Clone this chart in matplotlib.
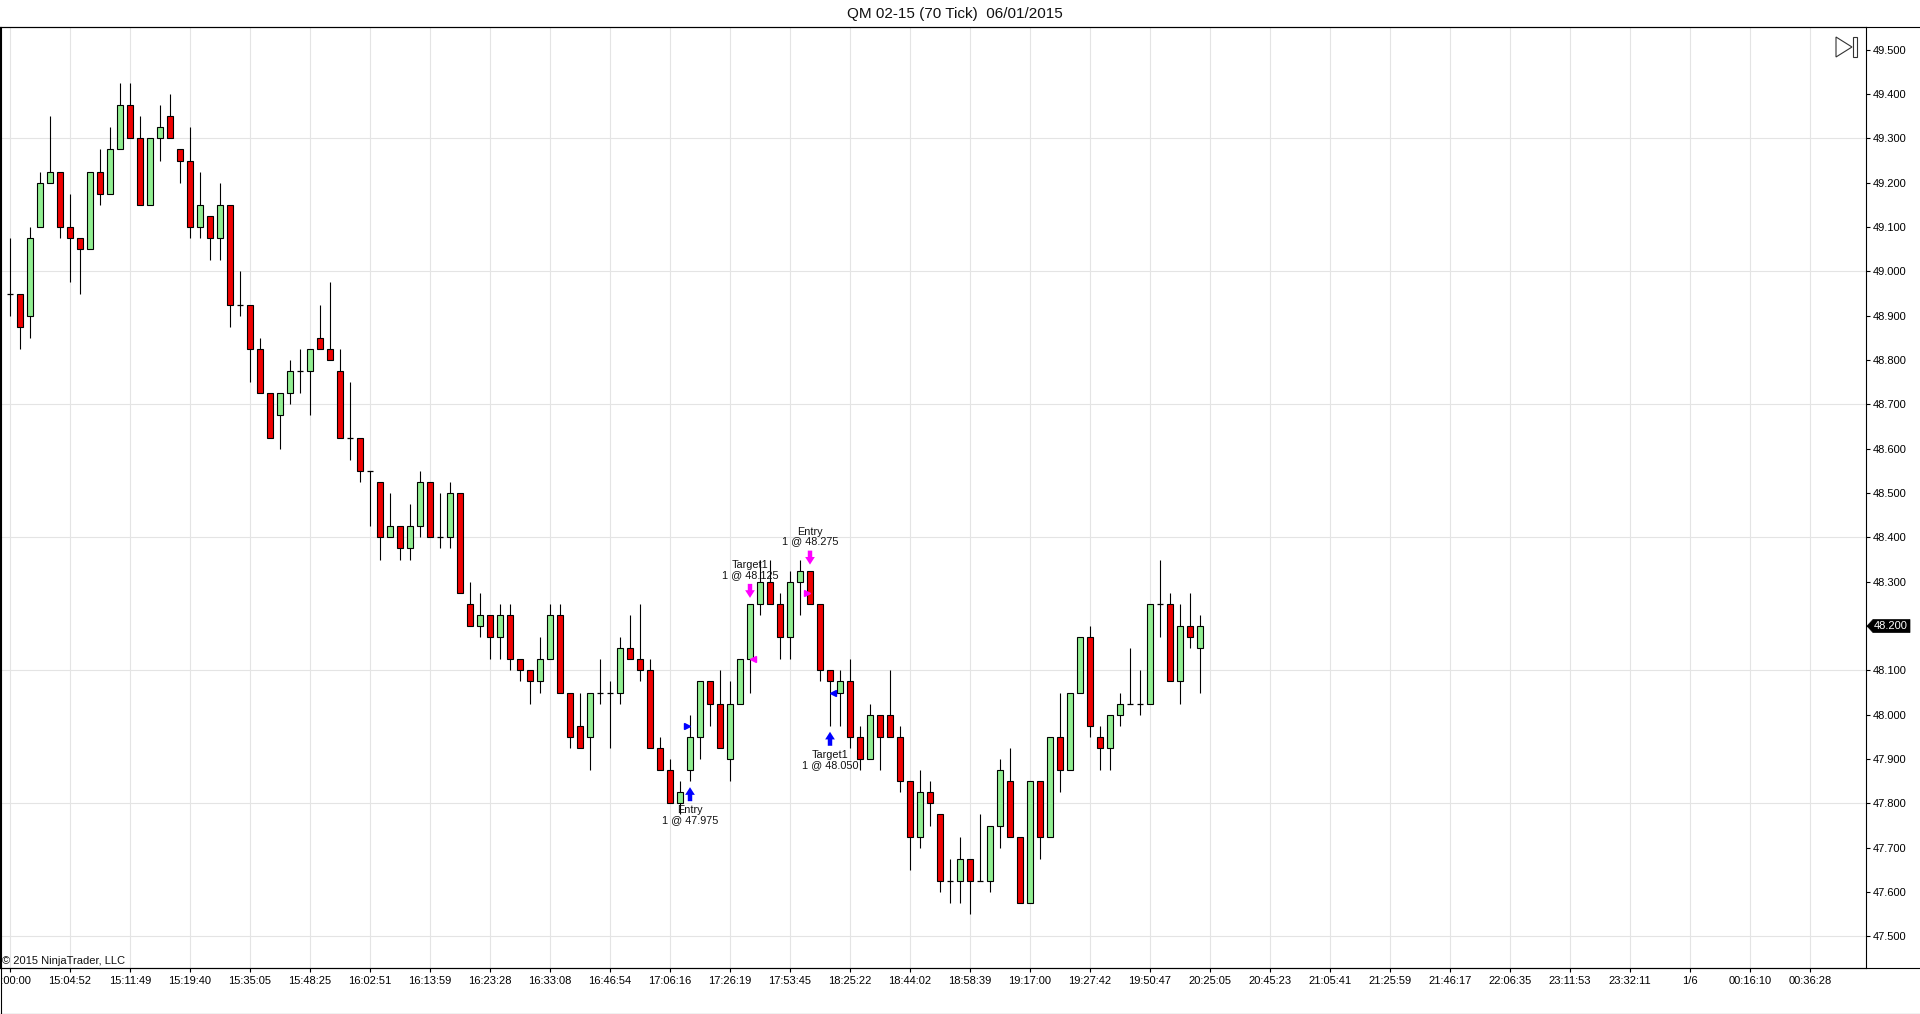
import numpy as np
import matplotlib
matplotlib.use('Agg')
import matplotlib.pyplot as plt
from matplotlib.transforms import offset_copy
from matplotlib.patches import Polygon, Rectangle
from matplotlib.lines import Line2D
from matplotlib.ticker import FormatStrFormatter

plt.rcParams['font.family'] = ['Liberation Sans', 'DejaVu Sans']

# ---------------- data (70-tick bars) ----------------
opens = [48.95, 48.95, 48.9, 49.1, 49.2, 49.225, 49.1, 49.075, 49.05, 49.225,
         49.175, 49.275, 49.375, 49.3, 49.15, 49.3, 49.35, 49.275, 49.25, 49.1,
         49.125, 49.075, 49.15, 48.925, 48.925, 48.825, 48.725, 48.675, 48.725, 48.775,
         48.775, 48.85, 48.825, 48.775, 48.625, 48.625, 48.55, 48.525, 48.4, 48.425,
         48.375, 48.425, 48.525, 48.4, 48.4, 48.5, 48.25, 48.2, 48.225, 48.175,
         48.225, 48.125, 48.1, 48.075, 48.125, 48.225, 48.05, 47.975, 47.95, 48.05,
         48.05, 48.05, 48.15, 48.125, 48.1, 47.925, 47.875, 47.8, 47.875, 47.95,
         48.075, 48.025, 47.9, 48.025, 48.125, 48.25, 48.3, 48.25, 48.175, 48.3,
         48.325, 48.25, 48.1, 48.05, 48.075, 47.95, 47.9, 48.0, 48.0, 47.95,
         47.85, 47.725, 47.825, 47.775, 47.625, 47.625, 47.675, 47.625, 47.625, 47.75,
         47.85, 47.725, 47.575, 47.85, 47.725, 47.95, 47.875, 48.05, 48.175, 47.95,
         47.925, 48.0, 48.025, 48.025, 48.025, 48.25, 48.25, 48.075, 48.2, 48.15]
highs = [49.075, 48.95, 49.1, 49.225, 49.35, 49.225, 49.175, 49.075, 49.225, 49.275,
         49.325, 49.425, 49.425, 49.35, 49.3, 49.375, 49.4, 49.275, 49.325, 49.225,
         49.125, 49.2, 49.15, 49.0, 48.925, 48.85, 48.725, 48.725, 48.8, 48.825,
         48.825, 48.925, 48.975, 48.825, 48.75, 48.625, 48.55, 48.525, 48.5, 48.425,
         48.475, 48.55, 48.525, 48.5, 48.525, 48.5, 48.3, 48.275, 48.225, 48.25,
         48.25, 48.125, 48.1, 48.175, 48.25, 48.25, 48.05, 48.05, 48.05, 48.125,
         48.075, 48.175, 48.225, 48.25, 48.125, 47.95, 47.9, 47.85, 48.0, 48.075,
         48.075, 48.1, 48.075, 48.125, 48.25, 48.35, 48.35, 48.275, 48.325, 48.35,
         48.325, 48.25, 48.1, 48.1, 48.125, 47.975, 48.025, 48.0, 48.1, 47.975,
         47.85, 47.875, 47.85, 47.775, 47.675, 47.725, 47.675, 47.775, 47.75, 47.9,
         47.925, 47.725, 47.85, 47.85, 47.95, 48.05, 48.05, 48.175, 48.2, 47.975,
         48.0, 48.05, 48.15, 48.1, 48.25, 48.35, 48.275, 48.25, 48.275, 48.225]
lows = [48.9, 48.825, 48.85, 49.1, 49.2, 49.075, 48.975, 48.95, 49.05, 49.15,
        49.175, 49.275, 49.3, 49.15, 49.15, 49.25, 49.3, 49.2, 49.075, 49.075,
        49.025, 49.025, 48.875, 48.9, 48.75, 48.725, 48.625, 48.6, 48.7, 48.725,
        48.675, 48.825, 48.8, 48.625, 48.575, 48.525, 48.425, 48.35, 48.4, 48.35,
        48.35, 48.4, 48.4, 48.375, 48.375, 48.275, 48.2, 48.175, 48.125, 48.125,
        48.1, 48.075, 48.025, 48.05, 48.125, 48.05, 47.925, 47.925, 47.875, 48.025,
        47.925, 48.025, 48.125, 48.075, 47.925, 47.875, 47.8, 47.775, 47.85, 47.9,
        47.975, 47.925, 47.85, 48.025, 48.05, 48.225, 48.25, 48.125, 48.125, 48.225,
        48.25, 48.075, 47.975, 47.975, 47.925, 47.875, 47.9, 47.875, 47.95, 47.825,
        47.65, 47.7, 47.75, 47.6, 47.575, 47.575, 47.55, 47.625, 47.6, 47.7,
        47.725, 47.575, 47.575, 47.675, 47.725, 47.825, 47.875, 48.05, 47.95, 47.875,
        47.875, 47.975, 48.025, 48.0, 48.025, 48.175, 48.075, 48.025, 48.15, 48.05]
closes = [48.95, 48.875, 49.075, 49.2, 49.225, 49.1, 49.075, 49.05, 49.225, 49.175,
          49.275, 49.375, 49.3, 49.15, 49.3, 49.325, 49.3, 49.25, 49.1, 49.15,
          49.075, 49.15, 48.925, 48.925, 48.825, 48.725, 48.625, 48.725, 48.775, 48.775,
          48.825, 48.825, 48.8, 48.625, 48.625, 48.55, 48.55, 48.4, 48.425, 48.375,
          48.425, 48.525, 48.4, 48.4, 48.5, 48.275, 48.2, 48.225, 48.175, 48.225,
          48.125, 48.1, 48.075, 48.125, 48.225, 48.05, 47.95, 47.925, 48.05, 48.05,
          48.05, 48.15, 48.125, 48.1, 47.925, 47.875, 47.8, 47.825, 47.95, 48.075,
          48.025, 47.925, 48.025, 48.125, 48.25, 48.3, 48.25, 48.175, 48.3, 48.325,
          48.25, 48.1, 48.075, 48.075, 47.95, 47.9, 48.0, 47.95, 47.95, 47.85,
          47.725, 47.825, 47.8, 47.625, 47.625, 47.675, 47.625, 47.625, 47.75, 47.875,
          47.725, 47.575, 47.85, 47.725, 47.95, 47.875, 48.05, 48.175, 47.975, 47.925,
          48.0, 48.025, 48.025, 48.025, 48.25, 48.25, 48.075, 48.2, 48.175, 48.2]

time_labels = ["15:00:00", "15:04:52", "15:11:49", "15:19:40", "15:35:05", "15:48:25",
               "16:02:51", "16:13:59", "16:23:28", "16:33:08", "16:46:54", "17:06:16",
               "17:26:19", "17:53:45", "18:25:22", "18:44:02", "18:58:39", "19:17:00",
               "19:27:42", "19:50:47", "20:25:05", "20:45:23", "21:05:41", "21:25:59",
               "21:46:17", "22:06:35", "23:11:53", "23:32:11", "1/6", "00:16:10",
               "00:36:28"]
bars_per_label = 6

price_ticks = [47.5, 47.6, 47.7, 47.8, 47.9, 48.0, 48.1, 48.2, 48.3, 48.4, 48.5,
               48.6, 48.7, 48.8, 48.9, 49.0, 49.1, 49.2, 49.3, 49.4, 49.5]
price_grid = [47.5, 47.8, 48.1, 48.4, 48.7, 49.0, 49.3]

trade_bars = [68, 74, 80, 82]
trade_names = ["Entry", "Target1", "Entry", "Target1"]
trade_prices = [47.975, 48.125, 48.275, 48.050]
trade_sides = ["buy", "sell", "sell", "buy"]

title = "QM 02-15 (70 Tick)  06/01/2015"

# ---------------- figure ----------------
W, H = 1920, 1014
fig = plt.figure(figsize=(W / 100, H / 100), dpi=100, facecolor='white')
ax = fig.add_axes([0, (H - 968) / H, 1866 / W, (968 - 27) / H])

o = np.array(opens); h = np.array(highs); l = np.array(lows); c = np.array(closes)
x = np.arange(len(o))

ax.set_xlim(-1, 185.6)
ax.set_ylim(47.4286, 49.5513)

GRID = '#e4e4e4'
for lv in price_grid:
    ax.axhline(lv, color=GRID, lw=0.8, zorder=0)

ax.vlines(x, l, h, color='black', lw=0.8, zorder=2)
up = c > o
dn = c < o
dj = c == o
BW = 0.62
ax.bar(x[up], (c - o)[up], bottom=o[up], width=BW, color='#90ee90',
       edgecolor='black', linewidth=0.8, zorder=3)
ax.bar(x[dn], (o - c)[dn], bottom=c[dn], width=BW, color='#f00000',
       edgecolor='black', linewidth=0.8, zorder=3)
ax.hlines(c[dj], x[dj] - BW / 2, x[dj] + BW / 2, color='black', lw=0.9, zorder=3)

# axes styling
tick_pos = np.arange(len(time_labels)) * bars_per_label
ax.set_xticks(tick_pos)
ax.set_xticklabels(time_labels)
ax.grid(axis='x', color=GRID, lw=0.8, zorder=0)
ax.set_axisbelow(True)
ax.yaxis.tick_right()
ax.set_yticks(price_ticks)
ax.yaxis.set_major_formatter(FormatStrFormatter('%.3f'))
ax.tick_params(axis='y', direction='out', length=3, width=0.8, pad=2, labelsize=8,
               colors='black')
ax.tick_params(axis='x', direction='out', length=3, width=0.8, pad=3, labelsize=8,
               colors='black')
for s in ax.spines.values():
    s.set_linewidth(0.8)
    s.set_color('black')

# trade markers
def tr(dy):
    return offset_copy(ax.transData, fig=fig, x=0, y=dy, units='dots')

for b, name, pr, side in zip(trade_bars, trade_names, trade_prices, trade_sides):
    col = '#0000ff' if side == 'buy' else '#ff00ff'
    if side == 'buy':
        ref = l[b]
        tip, tail, toff, va = -6, -20, -24, 'top'
    else:
        ref = h[b]
        tip, tail, toff, va = 6, 20, 24, 'bottom'
    ax.annotate('', xy=(b, ref), xycoords=tr(tip), xytext=(b, ref), textcoords=tr(tail),
                arrowprops=dict(arrowstyle='simple,head_length=0.55,head_width=0.7,tail_width=0.32',
                                color=col, lw=0, shrinkA=0, shrinkB=0, mutation_scale=10),
                annotation_clip=False, zorder=6)
    ax.annotate(f"{name}\n1 @ {pr:.3f}", xy=(b, ref), xycoords='data',
                xytext=(0, toff), textcoords='offset pixels', ha='center', va=va,
                fontsize=7.8, linespacing=1.0, color='#111111', zorder=6)
    if name == 'Entry':
        ax.plot(b - 0.35, pr, marker='>', color=col, markersize=4, zorder=6, lw=0)
    else:
        ax.plot(b + 0.3, pr, marker='<', color=col, markersize=4, zorder=6, lw=0)

ax.text(0.001, 0.002, "\u00a9 2015 NinjaTrader, LLC", transform=ax.transAxes,
        ha='left', va='bottom', fontsize=8, color='#111111')

# ---------------- overlay (frame, icon, last price box) ----------------
ov = fig.add_axes([0, 0, 1, 1], facecolor='none')
ov.set_xlim(0, W)
ov.set_ylim(0, H)
ov.axis('off')
LW = 0.8
ov.add_line(Line2D([0, W], [H - 27, H - 27], color='black', lw=LW))
ov.add_line(Line2D([0, W], [H - 968, H - 968], color='black', lw=LW))
ov.add_line(Line2D([0, W], [0.5, 0.5], color='black', lw=LW))
ov.add_line(Line2D([0.5, 0.5], [0.5, H - 27], color='black', lw=LW))

# "go to end" icon
ov.add_patch(Polygon([[1836, H - 37], [1836, H - 57], [1852, H - 47]], closed=True,
                     fill=False, edgecolor='#333333', lw=0.8))
ov.add_patch(Rectangle((1853, H - 57), 4, 20, fill=False, edgecolor='#333333', lw=0.8))

# last price marker
py = ax.transData.transform((0, c[-1]))[1]
ax_right = 1866
ov.add_patch(Polygon([[ax_right + 1, py], [ax_right + 7, py + 6.5], [1910, py + 6.5],
                      [1910, py - 6.5], [ax_right + 7, py - 6.5]], closed=True,
                     facecolor='black', edgecolor='black', lw=0.5))
ov.text(1891, py, f"{c[-1]:.3f}", color='white', fontsize=8, ha='center', va='center')

fig.text(955 / W, 1 - 14 / H, title, ha='center', va='center', fontsize=11, color='#111111')

fig.savefig('out.png', dpi=100, facecolor='white')
